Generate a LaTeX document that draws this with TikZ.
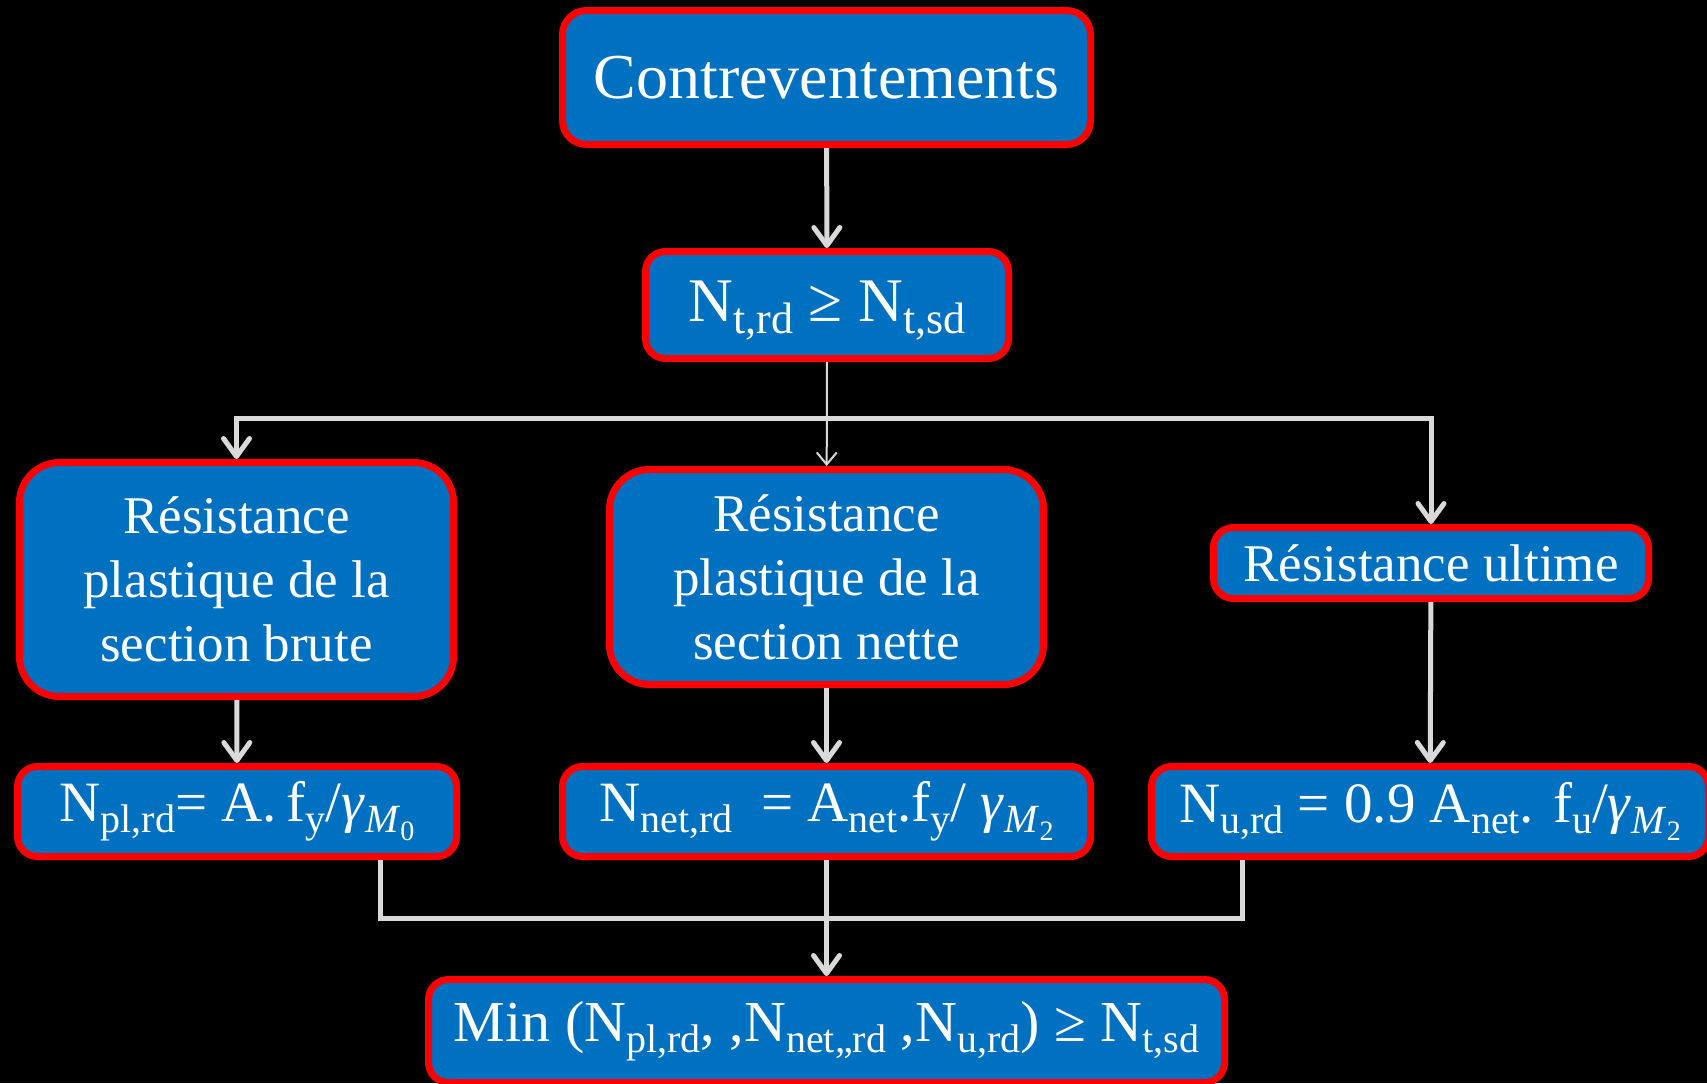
\documentclass[tikz,border=0pt]{standalone}
\usepackage{fontspec}
\setmainfont{Liberation Serif}
\usetikzlibrary{arrows.meta}

\definecolor{boxblue}{HTML}{0070C0}
\definecolor{boxred}{HTML}{FF0000}
\definecolor{linegray}{HTML}{D9D9D9}

% lowered index, and gamma_M with its index
\newcommand\lo[2][20]{\raisebox{-0.2em}{\fontsize{#1}{#1}\selectfont #2}}
\newcommand\gam[1]{\textit{γ}\lo{\textit{M}\raisebox{-0.18em}{\fontsize{14}{14}\selectfont #1}}}

\tikzset{
  box/.style={draw=boxred, fill=boxblue, line width=3.5pt, rounded corners=10pt,
    text=white, align=center, inner sep=0pt},
  bigbox/.style={box, rounded corners=20pt, minimum width=217pt,
    font=\fontsize{26.5}{32}\selectfont},
  formbox/.style={box, minimum height=45pt, font=\fontsize{28.5}{32}\selectfont},
  gline/.style={draw=linegray, line width=2.5pt},
}

\begin{document}
\begin{tikzpicture}[x=0.5pt,y=-0.5pt,>={Straight Barb[length=9pt,width=13pt,round]}]
\useasboundingbox (0,0) rectangle (1707,1083);
\fill[black] (0,0) rectangle (1707,1083);

% top
\node[box, rounded corners=12pt, minimum width=264pt, minimum height=67pt,
  font=\fontsize{32}{38}\selectfont] (contrev) at (826.5,77.5) {Contreventements};
\node[box, minimum width=181.5pt, minimum height=53.5pt, text depth=4pt,
  font=\fontsize{31}{34}\selectfont] (ntrd) at (827,305) {N\lo[22]{t,rd} ≥ N\lo[22]{t,sd}};

% three checks
\node[bigbox, minimum height=117pt] (brute) at (236.5,579.5)
  {Résistance\\ plastique de la\\ section brute};
\node[bigbox, minimum height=107.5pt] (nette) at (826.5,577)
  {Résistance\\ plastique de la\\ section nette};
\node[bigbox, rounded corners=10pt, minimum width=217.5pt, minimum height=35.5pt] (ultime)
  at (1431,563) {Résistance ultime};

% formulas
\node[formbox, minimum width=219.5pt] (fpl) at (237,811.5)
  {N\lo{pl,rd}= A.\,f\lo{y}/\gam{0}};
\node[formbox, minimum width=264pt] (fnet) at (826.5,811.5)
  {N\lo{net,rd}\ \ = A\lo{net}.f\lo{y}/ \gam{2}};
\node[formbox, minimum width=278.5pt] (fu) at (1430,811.5)
  {N\lo{u,rd} = 0.9 A\lo{net}. f\lo{u}/\gam{2}};

\node[formbox, minimum width=398pt, minimum height=51.5pt, font=\fontsize{29}{32}\selectfont]
  (minbox) at (826.5,1031)
  {Min (N\lo{pl,rd}, ,N\lo{net,,rd} ,N\lo{u,rd}) ≥ N\lo{t,sd}};

% connectors
\coordinate (split) at (827,418);
\coordinate (jl) at (380,918);
\coordinate (jr) at (1242,918);

\draw[gline,->] (contrev) -- (ntrd);
\draw[gline,<->] (brute.north) |- (split) -| (ultime.north);
\draw[linegray, line width=1pt, -{Straight Barb[length=6pt,width=10pt]}] (ntrd) -- (nette);

\draw[gline,->] (brute) -- (fpl);
\draw[gline,->] (nette) -- (fnet);
\draw[gline,->] (ultime) -- (fu);

\draw[gline] (fpl.south -| jl) -- (jl) -- (jr) -- (fu.south -| jr);
\draw[gline,->] (fnet) -- (minbox);
\end{tikzpicture}
\end{document}
